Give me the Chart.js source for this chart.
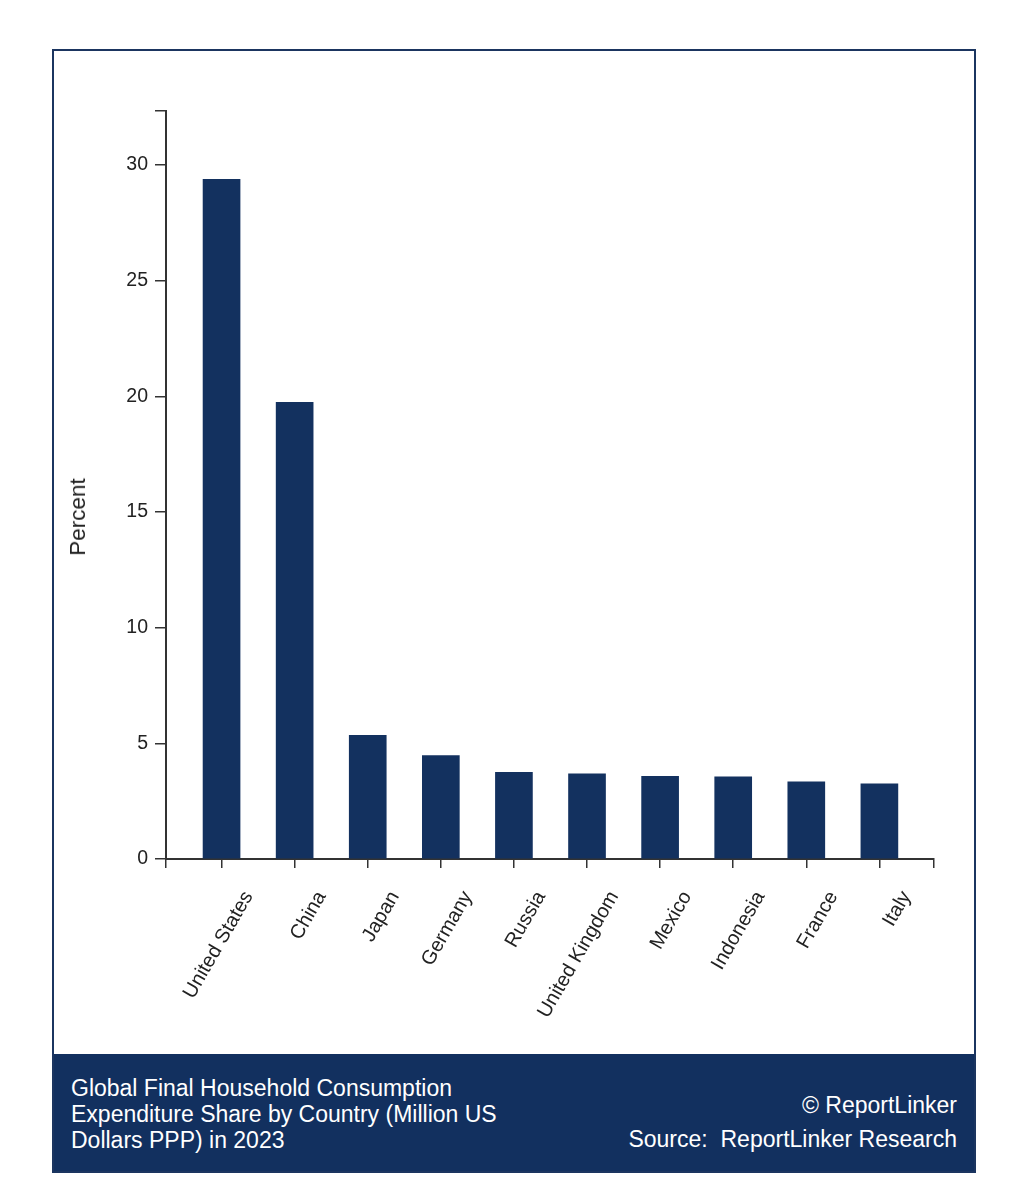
<!DOCTYPE html>
<html>
<head>
<meta charset="utf-8">
<script src="https://cdn.jsdelivr.net/npm/chart.js@4.4.1/dist/chart.umd.min.js"></script>
<style>
  body { margin: 0; background: #fff; font-family: "Liberation Sans", Arial, sans-serif; }
  .frame {
    position: absolute; left: 52px; top: 49px; width: 924px; height: 1124px;
    box-sizing: border-box; border: 2px solid #1b3560; background: #fff;
  }
  .plot { position: absolute; left: 0; top: 0; width: 920px; height: 1005px; }
  .ytitle {
    position: absolute; left: 24px; top: 466px; width: 0; height: 0;
    color: #222; font-size: 22.5px; white-space: nowrap;
  }
  .ytitle span { position: absolute; transform: translate(-50%, -50%) rotate(-90deg); }
  .footer {
    position: absolute; left: 0; right: 0; bottom: 0; height: 117px;
    background: #12305f; color: #fff; font-size: 23px; line-height: 26px;
  }
  .footer .title { position: absolute; left: 17px; top: 21px; width: 455px; }
  .footer .src { position: absolute; right: 17px; top: 34px; text-align: right; line-height: 34px; }
</style>
</head>
<body>
<div class="frame">
  <div class="plot"><canvas id="myChart"></canvas></div>
  <div class="ytitle"><span>Percent</span></div>
  <div class="footer">
    <div class="title">Global Final Household Consumption Expenditure Share by Country (Million US Dollars PPP) in 2023</div>
    <div class="src">© ReportLinker<br>Source:&nbsp; ReportLinker Research</div>
  </div>
</div>
<script>
const countries = [
  'United States', 'China', 'Japan', 'Germany', 'Russia',
  'United Kingdom', 'Mexico', 'Indonesia', 'France', 'Italy',
];
const shares = [29.38, 19.74, 5.34, 4.47, 3.75, 3.68, 3.57, 3.55, 3.34, 3.25];
const yTicks = [0, 5, 10, 15, 20, 25, 30];
const yMax = 32.33;
const xMin = -0.76;
const xMax = 9.75;

const axisColor = '#333';
const ctx = document.getElementById('myChart');

new Chart(ctx, {
  type: 'bar',
  data: {
    datasets: [
      {
        data: shares.map((v, i) => ({ x: i, y: v })),
        backgroundColor: '#13315f',
        barThickness: 37,
      },
    ],
  },
  options: {
    responsive: true,
    maintainAspectRatio: false,
    animation: false,
    layout: { padding: { left: 0, right: 39, top: 60, bottom: 0 } },
    plugins: {
      legend: { display: false },
      tooltip: { enabled: false },
    },
    scales: {
      x: {
        type: 'linear',
        offset: false,
        min: xMin,
        max: xMax,
        afterBuildTicks: (axis) => {
          axis.ticks = [xMin, ...countries.map((c, i) => i), xMax].map((v) => ({ value: v }));
        },
        afterFit: (axis) => { axis.height = 197; },
        grid: { display: true, offset: false, drawOnChartArea: false, drawTicks: true, tickLength: 9, color: axisColor, lineWidth: 1.5 },
        border: { display: true, color: axisColor, width: 2 },
        ticks: {
          autoSkip: false,
          minRotation: 60,
          maxRotation: 60,
          labelOffset: 27,
          padding: 19,
          color: '#222',
          font: { family: '"Liberation Sans", Arial, sans-serif', size: 20 },
          callback: (v) => (Number.isInteger(v) && countries[v] !== undefined ? countries[v] : ''),
        },
      },
      y: {
        min: 0,
        max: yMax,
        afterBuildTicks: (axis) => {
          axis.ticks = [...yTicks, yMax].map((v) => ({ value: v }));
        },
        afterFit: (axis) => { axis.width = 112; },
        grid: { display: true, drawOnChartArea: false, drawTicks: true, tickLength: 11, color: axisColor, lineWidth: 1.5 },
        border: { display: true, color: axisColor, width: 2 },
        ticks: {
          padding: 7,
          color: '#222',
          font: { family: '"Liberation Sans", Arial, sans-serif', size: 19.5 },
          callback: (v) => (yTicks.includes(v) ? v : ''),
        },
      },
    },
  },
});
</script>
</body>
</html>
